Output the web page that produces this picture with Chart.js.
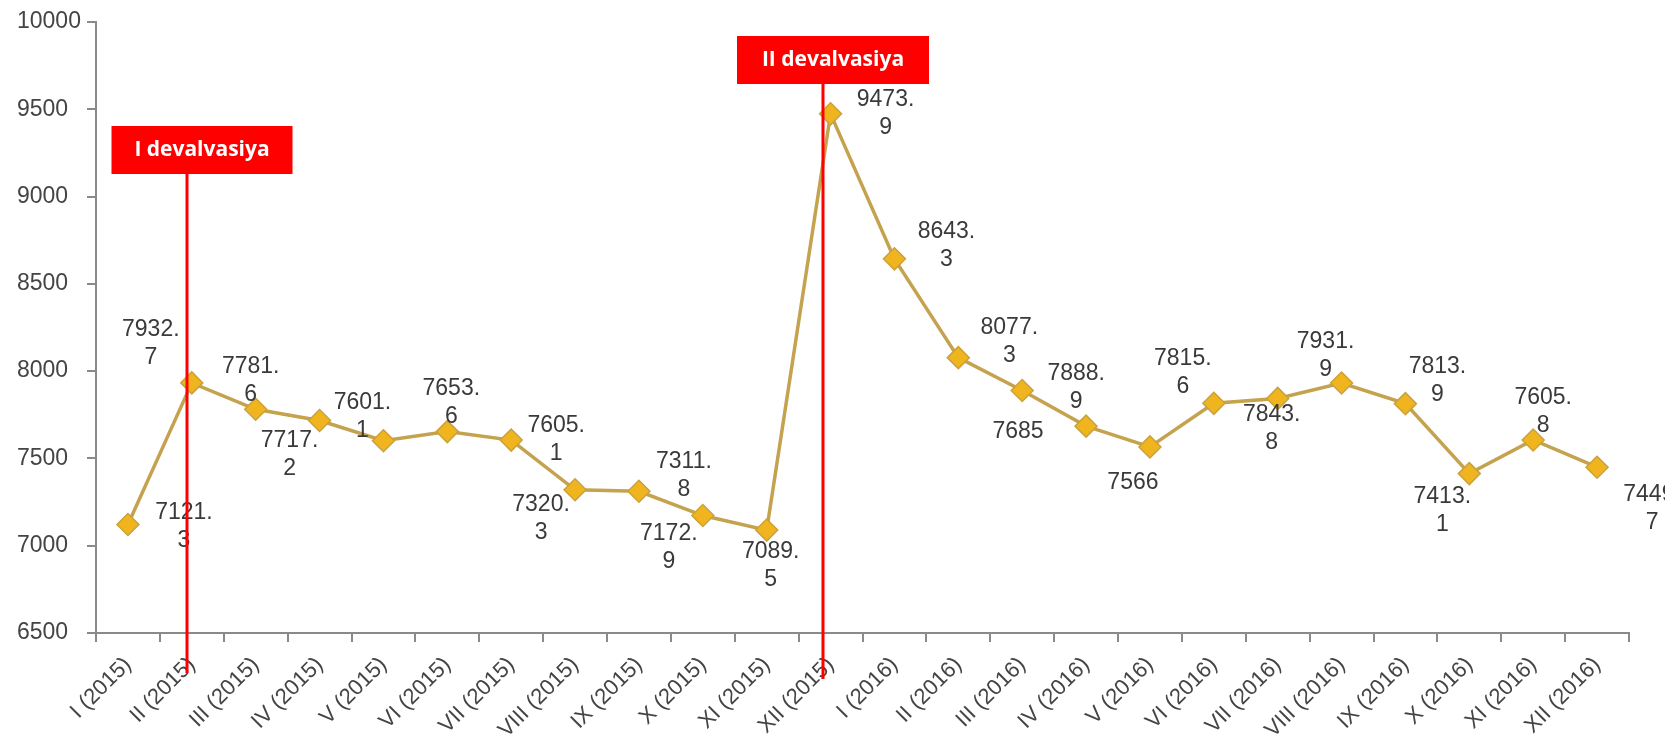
<!DOCTYPE html>
<html>
<head>
<meta charset="utf-8">
<script src="https://cdn.jsdelivr.net/npm/chart.js@4"></script>
<style>
  html, body { margin: 0; padding: 0; background: #fff; }
  #wrap { width: 1665px; height: 742px; }
</style>
</head>
<body>
<div id="wrap"><canvas id="chart" width="1665" height="742"></canvas></div>
<script>
// data
const months = [
  'I (2015)', 'II (2015)', 'III (2015)', 'IV (2015)', 'V (2015)', 'VI (2015)',
  'VII (2015)', 'VIII (2015)', 'IX (2015)', 'X (2015)', 'XI (2015)', 'XII (2015)',
  'I (2016)', 'II (2016)', 'III (2016)', 'IV (2016)', 'V (2016)', 'VI (2016)',
  'VII (2016)', 'VIII (2016)', 'IX (2016)', 'X (2016)', 'XI (2016)', 'XII (2016)'
];
const rates = [
  7121.3, 7932.7, 7781.6, 7717.2, 7601.1, 7653.6,
  7605.1, 7320.3, 7311.8, 7172.9, 7089.5, 9473.9,
  8643.3, 8077.3, 7888.9, 7685, 7566, 7815.6,
  7843.8, 7931.9, 7813.9, 7413.1, 7605.8, 7449.7
];
const yMin = 6500;
const yMax = 10000;
const yStep = 500;
const events = [
  { label: 'I devalvasiya', month: 'II (2015)' },
  { label: 'II devalvasiya', month: 'XII (2015)' }
];

// where each value label sits, relative to its point (px)
const labelShift = [
  [56, 2], [-41, -39], [-5, -29], [-30, 34], [-21, -24], [4, -29],
  [45, 0], [-34, 29], [45, -16], [-34, 32], [4, 36], [55, 0],
  [52, -13], [51, -16], [54, -3], [-68, 6], [-17, 36], [-31, -31],
  [-6, 30], [-16, -27], [32, -23], [-27, 37], [10, -28], [55, 41]
];
// event box look
const eventStyle = [
  { dx: -5, boxDx: 15, boxW: 181, boxTop: 104, drop: 40 },
  { dx: -8, boxDx: 10, boxW: 192, boxTop: 14, drop: 46 }
];

const pointLabels = {
  id: 'pointLabels',
  afterDatasetsDraw(chart) {
    const ctx = chart.ctx;
    const meta = chart.getDatasetMeta(0);
    ctx.save();
    ctx.font = '23px "Liberation Sans", Arial, sans-serif';
    ctx.fillStyle = '#3a3a3a';
    ctx.textAlign = 'center';
    ctx.textBaseline = 'middle';
    meta.data.forEach((pt, i) => {
      const s = String(rates[i]);
      const parts = s.split('.');
      const lines = parts.length > 1 ? [parts[0] + '.', parts[1]] : [s];
      const cx = pt.x + labelShift[i][0];
      const cy = pt.y + labelShift[i][1];
      lines.forEach((t, k) => {
        ctx.fillText(t, cx, cy + (k - (lines.length - 1) / 2) * 28);
      });
    });
    ctx.restore();
  }
};

const eventMarks = {
  id: 'eventMarks',
  afterDraw(chart) {
    const { ctx, chartArea } = chart;
    const x = chart.scales.x;
    ctx.save();
    events.forEach((ev, k) => {
      const st = eventStyle[k];
      const lx = Math.round(x.getPixelForValue(months.indexOf(ev.month))) + st.dx;
      const top = chartArea.top + st.boxTop;
      const bx = lx + st.boxDx;
      ctx.strokeStyle = '#ff0000';
      ctx.lineWidth = 3;
      ctx.beginPath();
      ctx.moveTo(lx, top + 48);
      ctx.lineTo(lx, chartArea.bottom + st.drop);
      ctx.stroke();
      ctx.fillStyle = '#ff0000';
      ctx.fillRect(bx - st.boxW / 2, top, st.boxW, 48);
      ctx.fillStyle = '#ffffff';
      ctx.font = 'bold 21px "Open Sans", sans-serif';
      ctx.textAlign = 'center';
      ctx.textBaseline = 'middle';
      ctx.fillText(ev.label, bx, top + 24);
    });
    ctx.restore();
  }
};

new Chart(document.getElementById('chart'), {
  type: 'line',
  data: {
    labels: months,
    datasets: [{
      data: rates,
      borderColor: '#c4a24e',
      borderWidth: 3.5,
      tension: 0,
      pointStyle: 'rectRot',
      pointRadius: 11,
      pointBackgroundColor: '#f0b41e',
      pointBorderColor: '#c9a23f',
      pointBorderWidth: 1.5
    }]
  },
  options: {
    responsive: false,
    animation: false,
    layout: { padding: { left: 17, right: 36, top: 22, bottom: 0 } },
    plugins: {
      legend: { display: false },
      tooltip: { enabled: false }
    },
    scales: {
      x: {
        offset: true,
        grid: { offset: true, drawOnChartArea: false, drawTicks: true, tickLength: 9, color: '#8a8a8a', lineWidth: 2 },
        border: { color: '#8a8a8a', width: 2 },
        ticks: {
          autoSkip: false,
          minRotation: 45,
          maxRotation: 45,
          padding: 10,
          color: '#444',
          font: { family: '"Liberation Sans", Arial, sans-serif', size: 22 }
        },
        afterFit(scale) { scale.height = 109; }
      },
      y: {
        min: yMin,
        max: yMax,
        grid: { drawOnChartArea: false, drawTicks: true, tickLength: 9, color: '#8a8a8a', lineWidth: 2 },
        border: { color: '#8a8a8a', width: 2 },
        ticks: {
          stepSize: yStep,
          crossAlign: 'far',
          color: '#444',
          callback: (v) => String(v),
          font: { family: '"Liberation Sans", Arial, sans-serif', size: 23 }
        },
        afterFit(scale) { scale.width = 79; }
      }
    }
  },
  plugins: [pointLabels, eventMarks]
});
</script>
</body>
</html>
